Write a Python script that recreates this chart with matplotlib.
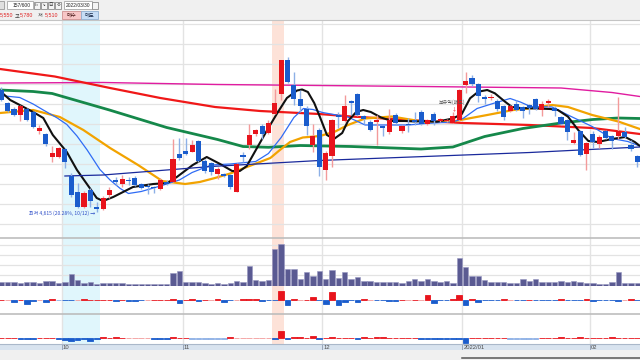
import matplotlib
matplotlib.use('Agg')
import matplotlib.pyplot as plt
from matplotlib.patches import Rectangle
import numpy as np

plt.rcParams['font.family'] = ['Noto Sans CJK KR', 'DejaVu Sans']

# ---- daily candles (won), Sep 14 2021 .. Feb 11 2022 ----
opens = [5835, 5705, 5645, 5585, 5645, 5615, 5425, 5395, 5165, 5165,
         5245, 4975, 4815, 4665, 4835, 4660, 4645, 4785, 4935, 4895,
         4940, 4960, 4895, 4880, 4865, 4850, 4920, 4920, 5200, 5225,
         5220, 5330, 5130, 5105, 4995, 5000, 4985, 4820, 5185, 5285,
         5395, 5475, 5410, 5600, 5800, 6135, 5885, 5750, 5650, 5285,
         5435, 5040, 5175, 5590, 5530, 5725, 5795, 5575, 5520, 5520,
         5470, 5420, 5590, 5430, 5500, 5540, 5620, 5495, 5595, 5530,
         5525, 5510, 5540, 5885, 5960, 5895, 5765, 5755, 5730, 5675,
         5630, 5700, 5665, 5685, 5750, 5640, 5710, 5660, 5570, 5540,
         5310, 5425, 5195, 5400, 5300, 5425, 5375, 5375, 5420, 5290,
         5175]
highs = [5865, 5715, 5665, 5685, 5655, 5625, 5485, 5405, 5275, 5265,
         5255, 5005, 4905, 4825, 4855, 4715, 4775, 4865, 4965, 4985,
         4965, 4975, 4905, 4895, 4880, 4955, 4935, 5350, 5360, 5355,
         5335, 5335, 5145, 5115, 5065, 5010, 4995, 5105, 5220, 5500,
         5450, 5500, 5535, 5850, 6140, 6170, 6020, 5835, 5675, 5500,
         5455, 5225, 5550, 5620, 5785, 5735, 5805, 5590, 5535, 5585,
         5480, 5650, 5610, 5490, 5555, 5615, 5635, 5550, 5620, 5560,
         5545, 5620, 5850, 6020, 5985, 5905, 5785, 5795, 5745, 5685,
         5690, 5735, 5680, 5700, 5760, 5730, 5750, 5680, 5580, 5550,
         5415, 5435, 5320, 5430, 5385, 5440, 5385, 5770, 5465, 5335,
         5185]
lows = [5725, 5615, 5575, 5525, 5525, 5455, 5395, 5275, 5115, 5155,
        5055, 4765, 4655, 4655, 4665, 4615, 4635, 4755, 4885, 4865,
        4885, 4875, 4845, 4800, 4805, 4835, 4890, 4915, 5135, 5185,
        5215, 5115, 5005, 4985, 4950, 4965, 4850, 4815, 5115, 5250,
        5380, 5350, 5400, 5600, 5735, 5905, 5685, 5620, 5385, 5220,
        4975, 4940, 5070, 5455, 5520, 5585, 5575, 5500, 5430, 5285,
        5375, 5400, 5500, 5405, 5415, 5485, 5485, 5485, 5485, 5520,
        5515, 5505, 5530, 5805, 5880, 5715, 5700, 5735, 5630, 5540,
        5620, 5625, 5555, 5600, 5635, 5575, 5670, 5575, 5490, 5335,
        5300, 5180, 5035, 5260, 5260, 5350, 5250, 5345, 5355, 5230,
        5070]
closes = [5735, 5625, 5585, 5675, 5535, 5465, 5455, 5295, 5205, 5255,
          5115, 4785, 4665, 4805, 4725, 4650, 4755, 4835, 4920, 4945,
          4925, 4885, 4860, 4865, 4855, 4940, 4900, 5150, 5160, 5195,
          5285, 5130, 5030, 5015, 5050, 4975, 4870, 5095, 5170, 5385,
          5435, 5400, 5510, 5710, 6135, 5920, 5750, 5675, 5475, 5375,
          5070, 5210, 5540, 5570, 5675, 5710, 5585, 5550, 5440, 5530,
          5460, 5540, 5510, 5475, 5485, 5520, 5495, 5540, 5530, 5545,
          5535, 5575, 5840, 5930, 5895, 5775, 5750, 5770, 5645, 5570,
          5675, 5635, 5625, 5660, 5650, 5695, 5720, 5630, 5500, 5420,
          5335, 5190, 5310, 5320, 5370, 5360, 5330, 5425, 5370, 5250,
          5120]
# volume, thousand shares
volume_k = [430, 430, 370, 330, 370, 370, 330, 530, 470, 330,
            400, 1200, 600, 270, 400, 230, 270, 270, 270, 270,
            230, 200, 170, 170, 200, 200, 170, 1330, 1470, 400,
            400, 400, 300, 230, 300, 230, 270, 500, 400, 2000,
            600, 530, 600, 3700, 4200, 1670, 1670, 700, 1370, 1000,
            1550, 700, 1600, 830, 1370, 670, 930, 530, 530, 400,
            370, 400, 370, 270, 470, 670, 500, 670, 530, 400,
            500, 270, 2830, 1930, 1000, 1000, 600, 400, 400, 400,
            270, 300, 700, 500, 700, 370, 370, 370, 500, 370,
            470, 430, 300, 270, 200, 200, 370, 1370, 330, 270,
            270]
# net buying, two investor groups
net_a = [3, 2, -20, 3, -37, -10, 2, -23, 13, -2,
         -3, -3, 2, 13, 3, 3, 3, 3, -13, 3,
         -13, -13, -3, 2, 3, 3, 3, 13, -27, 3,
         13, -13, 3, 2, 13, -20, -3, 2, 13, 13,
         13, -10, -3, -3, 87, -53, 13, 2, 3, 30,
         -3, -37, 80, -53, -20, -3, -23, 13, 2, -3,
         -3, -13, -13, 3, 2, 3, 2, 53, -30, -3,
         -3, 13, 53, -47, 13, -23, -3, -3, -3, 13,
         2, -3, -3, 3, -3, -3, -3, -3, 13, -3,
         -3, -3, 13, -13, -3, -3, -3, -13, 2, 13,
         -3]
net_b = [3, 3, 3, -3, -3, -3, 3, 3, 3, -3,
         -17, -23, -17, -3, -27, -3, 17, 3, 10, 3,
         2, 2, 2, 2, -3, -3, -3, 10, 3, 3,
         -2, -2, -2, -2, -2, -2, 10, 2, 2, 2,
         2, 2, 2, -3, 73, -3, 10, 10, 3, 27,
         -3, 3, 10, 3, 3, 3, -10, 17, 3, 10,
         10, 3, 3, 3, 3, 3, -3, -3, -3, -3,
         -3, -3, -3, -50, 3, 3, 3, 3, 3, 3,
         -2, -2, -2, -2, -2, 3, 3, 3, 10, 3,
         3, 13, 3, 3, 3, 3, 10, 3, 3, 3,
         3]

# moving averages (candle index, price)
ma5_x = [-0.2, 1.4, 2.9, 5, 6.6, 8.1, 10.3, 11.9, 13.9, 15, 16, 17.6, 20.7, 23.9,
         26.1, 27.6, 30.1, 32.3, 34.4, 36.3, 37.5, 38.6, 40.2, 41.9, 43.4, 44.9,
         46.5, 47.3, 48.2, 49.2, 50.1, 51.2, 52.3, 53.6, 54.5, 55.8, 56.9, 58.1,
         59.7, 61.4, 63.5, 65.1, 66.6, 68.5, 71, 72.4, 73.7, 75, 76.4, 77.6, 79.2,
         80.3, 81.6, 84.2, 86.3, 87.5, 89.1, 90.7, 92.3, 93.8, 96, 98.1, 99.6, 100.4]
ma5_y = [5825, 5735, 5685, 5615, 5555, 5385, 5215, 5035, 4855, 4755, 4725, 4765, 4865, 4895,
         4905, 4965, 5085, 5165, 5095, 5025, 5025, 5075, 5255, 5445, 5605, 5755,
         5830, 5840, 5815, 5705, 5565, 5385, 5345, 5405, 5525, 5615, 5635, 5615,
         5560, 5525, 5525, 5520, 5525, 5518, 5550, 5595, 5752, 5818, 5835, 5802, 5718,
         5665, 5655, 5650, 5645, 5635, 5568, 5435, 5325, 5315, 5345, 5365, 5315, 5275]
ma10_x = [-0.2, 2.9, 5, 6.6, 8.8, 10.3, 11.9, 13.5, 15.5, 17.1, 18.7, 20, 22, 25, 28,
          30, 33, 36, 40, 42, 44, 46, 47.5, 49, 50.5, 54.5, 57.2, 60, 64, 66.6, 71,
          72.6, 74.8, 77.3, 80, 81.6, 83.2, 86.6, 89.1, 92.9, 96, 98.5, 100.4]
ma10_y = [5780, 5760, 5695, 5635, 5555, 5490, 5375, 5235, 5040, 4935, 4850, 4800, 4820,
          4875, 4935, 5010, 5085, 5095, 5120, 5200, 5360, 5560, 5650, 5640, 5610, 5565,
          5485, 5485, 5485, 5500, 5515, 5550, 5650, 5700, 5750, 5715, 5670, 5665, 5585,
          5470, 5350, 5320, 5275]
ma20_x = [-0.2, 5, 9.2, 12.9, 17.1, 21.5, 25.3, 28.9, 31.2, 33.6, 36, 38, 42.3, 43.8,
          45.4, 47.4, 50.1, 52.5, 54.5, 57.2, 61.4, 66.6, 71, 72.6, 76.4, 80.5, 83.1,
          86.6, 89.1, 92.9, 97, 100.4]
ma20_y = [5605, 5635, 5565, 5435, 5255, 5085, 4925, 4895, 4915, 4955, 5000, 5050, 5155,
          5235, 5315, 5360, 5375, 5420, 5485, 5550, 5570, 5515, 5520, 5540, 5585, 5635,
          5650, 5685, 5665, 5585, 5520, 5445]
ma60_x = [-0.2, 5, 8, 17, 26, 34, 38, 42, 47, 55, 66, 71, 76, 82, 88, 93, 97, 100.4]
ma60_y = [5835, 5820, 5800, 5635, 5460, 5340, 5270, 5262, 5280, 5270, 5245, 5265, 5370,
          5450, 5505, 5540, 5555, 5550]
ma120_x = [-0.2, 8.4, 17.1, 25, 33.6, 40.7, 50, 55, 66.6, 72.6, 83.1, 92.9, 100.4]
ma120_y = [6045, 5970, 5855, 5755, 5665, 5625, 5595, 5570, 5525, 5505, 5485, 5455, 5395]
ma240_x = [-0.2, 16, 34, 50, 66, 88, 96, 100.4]
ma240_y = [5905, 5910, 5890, 5880, 5870, 5855, 5810, 5770]
trend_x = [10, 16, 33, 50, 66.6, 83.1, 100.4]
trend_y = [4975, 4985, 5070, 5130, 5170, 5210, 5265]

month_start = [10, 29, 51, 73, 93]
month_labels = ['10', '11', '12', '2022/01', '02']
low_note = '최저 4,615 (20.28%, 10/12) →'
signal_note = '보유익(매도)'
signal_day = 71

# ---- figure ----
W, H = 640, 360
fig = plt.figure(figsize=(6.4, 3.6), dpi=100, facecolor='#f0f0f0')


def px_axes(x0, y0, x1, y1):
    return fig.add_axes([x0 / W, 1 - y1 / H, (x1 - x0) / W, (y1 - y0) / H])


XL = (-0.204, 100.42)
RED, BLUE = '#e8141c', '#1a5ccc'
LRED, LBLUE = '#f39a9a', '#8db0e6'
GRID = '#e3e3e3'

idx = np.arange(len(closes))
o, h, l, c = map(np.array, (opens, highs, lows, closes))
up = c >= o

ax = px_axes(0, 20, 640, 238)
axv = px_axes(0, 238, 640, 286)
ax1 = px_axes(0, 286, 640, 314)
ax2 = px_axes(0, 314, 640, 343.5)
for a in (ax, axv, ax1, ax2):
    a.set_xlim(*XL)
    a.set_facecolor('white')
    a.set_xticks([])
    a.set_yticks([])
    for s in a.spines.values():
        s.set_visible(False)
    a.axvspan(9.5, 15.5, color='#e0f6fc', lw=0, zorder=0)
    a.axvspan(42.5, 44.5, color='#fde2d8', lw=0, zorder=0)
    for m in month_start:
        a.axvline(m - 0.5, color=GRID, lw=1, zorder=0.5)

# price panel
ax.set_ylim(4355, 6535)
for p in range(4500, 6600, 200):
    ax.axhline(p, color=GRID, lw=0.9, zorder=0.5)
ax.spines['top'].set_visible(True)
ax.spines['top'].set_color('#c4c4c4')

line_kw = dict(solid_joinstyle='round', solid_capstyle='round')
ax.plot(ma240_x, ma240_y, color='#e01ca0', lw=1.0, zorder=1.5, **line_kw)
ax.plot(ma120_x, ma120_y, color='#f01818', lw=1.6, zorder=1.6, **line_kw)
ax.plot(ma60_x, ma60_y, color='#15884a', lw=2.0, zorder=1.7, **line_kw)
ax.plot(ma20_x, ma20_y, color='#f2a300', lw=1.6, zorder=1.8, **line_kw)
ax.plot(ma10_x, ma10_y, color='#2f6cf5', lw=0.9, zorder=1.9, **line_kw)
ax.plot(ma5_x, ma5_y, color='#111111', lw=1.5, zorder=2.0, **line_kw)
ax.plot(trend_x, trend_y, color='#1a2a9c', lw=0.9, zorder=2.1)

ax.vlines(idx, l, h, colors=np.where(up, LRED, LBLUE), lw=1, zorder=3)
ax.bar(idx, np.maximum(np.abs(c - o), 12), bottom=np.minimum(o, c), width=0.8,
       color=np.where(up, RED, BLUE), lw=0, zorder=4)

lo_i = int(np.argmin(l))
ax.text(lo_i - 0.3, l[lo_i] - 8, low_note, fontsize=3.6, color='#2f4fc8',
        ha='right', va='center', zorder=5)
ax.text(signal_day - 0.2, h[signal_day] + 95, signal_note, fontsize=3.6, color='#555555',
        ha='center', va='center', zorder=5)
ax.text(signal_day + 0.2, h[signal_day] + 30, '↓', fontsize=3.6, color=RED,
        ha='center', va='center', zorder=5)

# volume panel
axv.set_ylim(0, 4800)
for g in (1100, 2100, 3100, 4100):
    axv.axhline(g, color=GRID, lw=0.9, zorder=0.5)
axv.axhline(0, color='#d0d0d0', lw=1, zorder=0.6)
axv.spines['top'].set_visible(True)
axv.spines['top'].set_color('#bdbdbd')
axv.spines['top'].set_linewidth(1.2)
axv.bar(idx, volume_k, width=0.85, color='#5a5a92', edgecolor='#9696c0', lw=0.4, zorder=2)


def net_colors(vals):
    out = []
    for v in vals:
        if v >= 0:
            out.append(RED if v > 2 else LRED)
        else:
            out.append(BLUE if v < -2 else LBLUE)
    return out


ax1.set_ylim(-140, 140)
ca = net_colors(net_a)
ax1.bar(idx, net_a, width=0.9, color=ca, edgecolor=ca, lw=0.6, zorder=2)

ax2.set_ylim(-52, 243)
ax2.spines['top'].set_visible(True)
ax2.spines['top'].set_color('#bdbdbd')
ax2.spines['top'].set_linewidth(1.2)
cb = net_colors(net_b)
ax2.bar(idx, net_b, width=0.9, color=cb, edgecolor=cb, lw=0.6, zorder=2)

# date band
axb = px_axes(0, 343.5, 640, 350)
axb.set_xlim(*XL)
axb.set_ylim(0, 1)
axb.set_facecolor('#d8e3ef')
axb.set_xticks([])
axb.set_yticks([])
for s in axb.spines.values():
    s.set_visible(False)
axb.spines['top'].set_visible(True)
axb.spines['top'].set_color('#aab8ca')
for m, lab in zip(month_start, month_labels):
    axb.axvline(m - 0.5, color='#8e9cb0', lw=0.6)
    axb.text(m - 0.3, 0.45, lab, fontsize=4.2, color='#4a4a4a', ha='left', va='center',
             family=['Liberation Sans', 'DejaVu Sans'])

# bottom strip / scrollbar edge
axs = px_axes(0, 350, 640, 360)
axs.set_xlim(0, 640)
axs.set_ylim(10, 0)
axs.axis('off')
axs.plot([462, 640], [7.7, 7.7], color='#555555', lw=1.1)

# toolbar
axt = px_axes(0, 0, 640, 20)
axt.set_xlim(0, 640)
axt.set_ylim(20, 0)
axt.axis('off')
num_font = ['Liberation Sans', 'Noto Sans CJK KR']


def box(x, y, w, hgt, fc='white', ec='#a8a8a8'):
    axt.add_patch(Rectangle((x, y), w, hgt, facecolor=fc, edgecolor=ec, lw=0.6))


box(-2, 1, 5.5, 8, fc='#e0e0e0', ec='#9a9a9a')
box(7, 1, 25.5, 8)
axt.text(30.5, 5.2, '157/600', fontsize=3.6, ha='right', va='center', color='#222222',
         family=num_font)
for x0, g in zip((33.5, 40.5, 47.5, 55), ('ılı', '↘', '日', '⚙')):
    box(x0, 1.5, 6.3, 7, fc='#f4f4f4', ec='#8c8c8c')
    axt.text(x0 + 3.15, 5.1, g, fontsize=3.2, ha='center', va='center', color='#333333',
             family=['DejaVu Sans', 'Noto Sans CJK KR'])
box(63.5, 1, 28.5, 8)
axt.text(77.7, 5.2, '2022/03/30', fontsize=3.5, ha='center', va='center', color='#222222',
         family=num_font)
box(92.3, 1.5, 5.5, 7, fc='#f4f4f4', ec='#8c8c8c')

for x0, s, col in ((0, '5,550', '#e02020'), (15, '고', '#444444'), (20, '5,780', '#e02020'),
                   (37.5, '저', '#444444'), (44.5, '5,510', '#e02020')):
    axt.text(x0, 15.2, s, fontsize=3.8, ha='left', va='center', color=col, family=num_font)
box(62, 11, 18.5, 8.3, fc='#f7c6c6', ec='#cf9090')
axt.text(71.2, 15.2, '매수', fontsize=3.8, ha='center', va='center', color='#4a1a1a')
box(81, 11, 17, 8.3, fc='#c6ddf6', ec='#8eaed0')
axt.text(89.5, 15.2, '매도', fontsize=3.8, ha='center', va='center', color='#1a2a4a')

fig.savefig('out.png', dpi=100, facecolor=fig.get_facecolor())
